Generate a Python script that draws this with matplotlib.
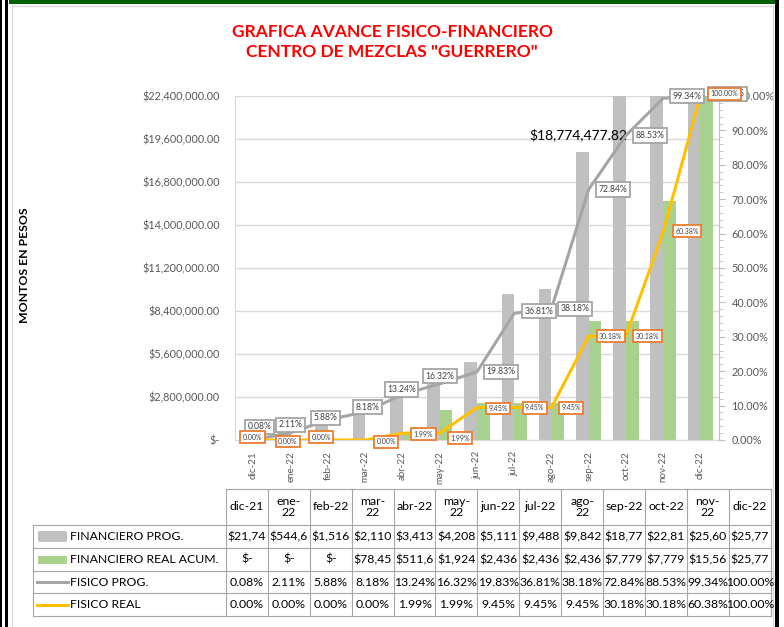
import matplotlib
matplotlib.use("Agg")
import matplotlib.pyplot as plt
from matplotlib.patches import Rectangle, FancyBboxPatch
from matplotlib.lines import Line2D
from matplotlib.transforms import Affine2D
from matplotlib.ticker import FuncFormatter, MultipleLocator
import numpy as np

# --- datos ---
MESES = ["dic-21", "ene-22", "feb-22", "mar-22", "abr-22", "may-22", "jun-22",
         "jul-22", "ago-22", "sep-22", "oct-22", "nov-22", "dic-22"]

FIN_PROG = [21745.60, 544612.30, 1516230.45, 2110458.90, 3413275.12, 4208861.47,
            5111394.08, 9488120.55, 9842706.31, 18774477.82, 22815390.64,
            25606142.27, 25775918.40]

FIN_REAL = [0.0, 0.0, 0.0, 78456.20, 511634.75, 1924318.06, 2436702.91,
            2436702.91, 2436702.91, 7779245.13, 7779245.13, 15563870.42,
            25775918.40]

FIS_PROG = [0.08, 2.11, 5.88, 8.18, 13.24, 16.32, 19.83, 36.81, 38.18, 72.84,
            88.53, 99.34, 100.00]

FIS_REAL = [0.00, 0.00, 0.00, 0.00, 1.99, 1.99, 9.45, 9.45, 9.45, 30.18, 30.18,
            60.38, 100.00]

SERIES = ["FINANCIERO PROG.", "FINANCIERO REAL ACUM.", "FISICO PROG.", "FISICO REAL"]

# meses que Excel parte en dos renglones en el encabezado de la tabla
PARTIDOS = {"ene-22", "mar-22", "may-22", "ago-22", "nov-22"}

GRIS_BARRA = "#C0C0C0"
VERDE = "#A9D18E"
GRIS_LINEA = "#A5A5A5"
AMARILLO = "#FFC000"
NARANJA = "#ED7D31"
TEXTO_EJE = "#595959"

# desplazamientos (px) de las etiquetas, como quedaron acomodadas a mano en Excel
OFF_PROG = [(6, 13), (0, 8), (-3, 2), (2, 4.5), (-1, 5), (0, 7.5), (24, 0),
            (24.5, 2), (23.5, 0), (24, 0), (24, 0), (24, 2), (27, 2)]
OFF_REAL = [(-1, 3), (-3, -1.5), (-7, 3), (21, -2), (21, -1), (20.5, -5), (21, -1),
            (20.5, -0.5), (19.5, -0.5), (22, 0), (21.5, 0), (24, 1), (24, 2)]

W, H = 784, 627
plt.rcParams["font.family"] = ["Lato", "DejaVu Sans"]

fig = plt.figure(figsize=(W / 100, H / 100), dpi=100)
# transformacion en pixeles de la imagen (y hacia abajo)
pix = Affine2D().scale(1 / W, -1 / H).translate(0, 1) + fig.transFigure


def rect(x0, y0, x1, y1, color, **kw):
    fig.add_artist(Rectangle((x0, y0), x1 - x0, y1 - y0, transform=pix,
                             facecolor=color, edgecolor="none", **kw))


def linea(xs, ys, color="#A6A6A6", lw=0.8, **kw):
    fig.add_artist(Line2D(xs, ys, transform=pix, color=color, lw=lw, **kw))


# marco de la hoja
rect(0, 0, 2, H, "black")
rect(5, 0, 8, H, "black")
rect(9, 0, 775, 4, "#006100")
rect(775, 0, 779, H, "black")
linea([12, 12], [5, H], color="#D9D9D9", lw=1)
linea([12, 773], [5.5, 5.5], color="#D9D9D9", lw=1)
linea([773, 773], [5, H], color="#D9D9D9", lw=1)

# titulo
fig.text(392 / W, 1 - 32 / H, "GRAFICA AVANCE FISICO-FINANCIERO", color="red",
         fontsize=12.5, fontweight="bold", ha="center", va="center")
fig.text(392 / W, 1 - 52 / H, 'CENTRO DE MEZCLAS "GUERRERO"', color="red",
         fontsize=12.5, fontweight="bold", ha="center", va="center")
fig.text(25 / W, 1 - 265 / H, "MONTOS EN PESOS", rotation=90, fontsize=8.8,
         fontweight="bold", ha="center", va="center")

# --- grafica ---
ax = fig.add_axes([235 / W, 1 - 440 / H, (719 - 235) / W, (440 - 96) / H])
ax2 = ax.twinx()
x = np.arange(len(MESES))
ax.bar(x - 0.17, FIN_PROG, width=0.34, color=GRIS_BARRA, zorder=2)
ax.bar(x + 0.17, FIN_REAL, width=0.34, color=VERDE, zorder=2)
ax.set_xlim(-0.5, len(MESES) - 0.5)
ax.set_ylim(0, 22.4e6)
ax.yaxis.set_major_locator(MultipleLocator(2.8e6))
ax.yaxis.set_major_formatter(FuncFormatter(lambda v, p: "$-" if v == 0 else f"${v:,.2f}"))
ax.grid(axis="y", color="#D9D9D9", lw=1, zorder=0)
ax.set_axisbelow(True)
ax.set_xticks(x)
ax.set_xticklabels(MESES, rotation=90)
ax.tick_params(axis="y", length=0, pad=11, labelsize=7.8, labelcolor=TEXTO_EJE)
ax.tick_params(axis="x", length=0, pad=8, labelsize=7, labelcolor=TEXTO_EJE)
for s in ["top", "right"]:
    ax.spines[s].set_visible(False)
for s in ["left", "bottom"]:
    ax.spines[s].set_color("#D9D9D9")

ax.annotate(f"${FIN_PROG[9]:,.2f}", (9 - 0.17, FIN_PROG[9]), xytext=(-4, 17),
            textcoords="offset pixels", ha="center", va="center", fontsize=10,
            annotation_clip=False)

ax2.set_ylim(0, 1.0)
ax2.yaxis.set_major_locator(MultipleLocator(0.1))
ax2.yaxis.set_minor_locator(MultipleLocator(0.02))
ax2.yaxis.set_major_formatter(FuncFormatter(lambda v, p: f"{v * 100:.2f}%"))
ax2.tick_params(axis="y", which="major", length=4, color="#BFBFBF", pad=5,
                labelsize=7.8, labelcolor=TEXTO_EJE)
ax2.tick_params(axis="y", which="minor", length=3, color="#BFBFBF")
for s in ["top", "left", "bottom"]:
    ax2.spines[s].set_visible(False)
ax2.spines["right"].set_color("#BFBFBF")

prog = np.array(FIS_PROG) / 100
real = np.array(FIS_REAL) / 100
ax2.plot(x, prog, color=GRIS_LINEA, lw=2.2, solid_capstyle="round", zorder=3)
ax2.plot(x, real, color=AMARILLO, lw=2.2, solid_capstyle="round", zorder=3)

for i in range(len(MESES)):
    ax2.annotate(f"{FIS_PROG[i]:.2f}%", (x[i], prog[i]), xytext=OFF_PROG[i],
                 textcoords="offset pixels", ha="center", va="center", fontsize=6.2,
                 color="#404040", annotation_clip=False, zorder=4,
                 bbox=dict(boxstyle="square,pad=0.3", fc="white", ec=GRIS_LINEA, lw=1.3))
for i in range(len(MESES)):
    ax2.annotate(f"{FIS_REAL[i]:.2f}%", (x[i], real[i]), xytext=OFF_REAL[i],
                 textcoords="offset pixels", ha="center", va="center", fontsize=5,
                 color="#404040", annotation_clip=False, zorder=5,
                 bbox=dict(boxstyle="square,pad=0.35", fc="white", ec=NARANJA, lw=1.3))

# --- tabla de datos ---
c0, c1, cw = 33, 226, 41.9
filas = [489, 525, 548, 571, 593, 616]
borde = "#A6A6A6"
ncol = len(MESES)
xr = c1 + ncol * cw
linea([c1, xr], [filas[0], filas[0]], color=borde)
for yy in filas[1:]:
    linea([c0, xr], [yy, yy], color=borde)
linea([c0, c0], [filas[1], filas[-1]], color=borde)
for j in range(ncol + 1):
    linea([c1 + j * cw] * 2, [filas[0], filas[-1]], color=borde)

for j, m in enumerate(MESES):
    etiqueta = m.replace("-", "-\n") if m in PARTIDOS else m
    fig.text((c1 + (j + 0.5) * cw) / W, 1 - (filas[0] + filas[1]) / 2 / H, etiqueta,
             ha="center", va="center", fontsize=8.8, linespacing=1.0)


def dinero(v):
    return "$-" if v == 0 else f"${v:,.2f}"[:6]


valores = [[dinero(v) for v in FIN_PROG],
           [dinero(v) for v in FIN_REAL],
           [f"{v:.2f}%" for v in FIS_PROG],
           [f"{v:.2f}%" for v in FIS_REAL]]

for r, nombre in enumerate(SERIES):
    yc = (filas[r + 1] + filas[r + 2]) / 2
    fig.text(70 / W, 1 - yc / H, nombre, ha="left", va="center", fontsize=8.8)
    for j, t in enumerate(valores[r]):
        fig.text((c1 + (j + 0.5) * cw) / W, 1 - yc / H, t, ha="center", va="center",
                 fontsize=8.8)

# claves de la leyenda
fig.add_artist(FancyBboxPatch((38, 531), 29, 11, boxstyle="round,pad=0,rounding_size=2",
                              transform=pix, fc=GRIS_BARRA, ec="none"))
rect(38, 556, 67, 564, VERDE)
linea([37, 68], [582, 582], color=GRIS_LINEA, lw=2.2)
linea([37, 68], [605, 605], color=AMARILLO, lw=2.2)

fig.savefig("out.png", dpi=100)
